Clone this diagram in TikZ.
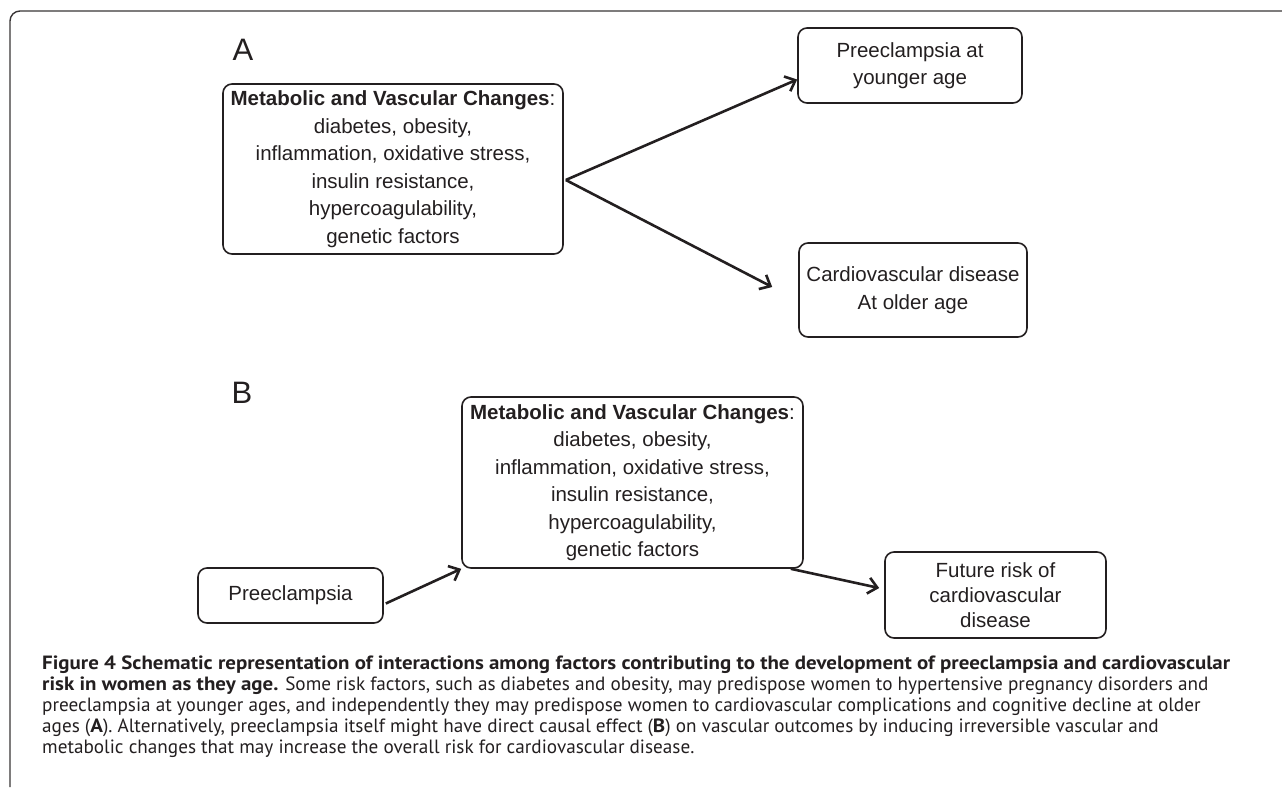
\documentclass[tikz,border=0pt]{standalone}
\usepackage{fontspec}
\setmainfont{Liberation Sans}
\newfontfamily\capfont{PT Sans}[BoldFeatures={FakeStretch=1.09}]
\usetikzlibrary{arrows.meta}

\definecolor{ink}{HTML}{231F20}

\begin{document}
\begin{tikzpicture}[x=1pt, y=-1pt,
  every node/.style={text=ink},
  box/.style={draw=ink, line width=1.6pt, rounded corners=9pt, align=center, inner sep=0pt,
    font=\fontsize{20.5}{27.5}\selectfont},
  arr/.style={draw=ink, line width=2.6pt, -{Straight Barb[length=9pt,width=16pt]}}]
  \useasboundingbox (0,0) rectangle (1282,787);

  % Frame
  \draw[ink!90, line width=1.4pt, rounded corners=10pt] (10,787) -- (10,11) -- (1282,11);

  % Panel A
  \node[font=\fontsize{31}{31}\selectfont] (labA) at (243,50) {A};
  \node[box, minimum width=340pt, minimum height=170pt] (chgA) at (393,169) {\textbf{Metabolic and Vascular Changes}:\\ diabetes, obesity,\\ inflammation, oxidative stress,\\ insulin resistance,\\ hypercoagulability,\\ genetic factors};
  \node[box, minimum width=224pt, minimum height=75pt] (young) at (910,65.5) {Preeclampsia at\\ younger age};
  \node[box, minimum width=228pt, minimum height=94pt] (old) at (913,290) {Cardiovascular disease\\ At older age};

  \coordinate (fork) at ([shift={(2pt,-11pt)}]chgA.east);
  \draw[arr] (fork) -- ([yshift=-14pt]young.west);
  \draw[arr] (fork) -- ([shift={(-26pt,3pt)}]old.west);

  % Panel B
  \node[font=\fontsize{31}{31}\selectfont] (labB) at (242,393) {B};
  \node[box, minimum width=341pt, minimum height=171pt] (chgB) at (632.5,482.5) {\textbf{Metabolic and Vascular Changes}:\\ diabetes, obesity,\\ inflammation, oxidative stress,\\ insulin resistance,\\ hypercoagulability,\\ genetic factors};
  \node[box, minimum width=185pt, minimum height=55pt] (pre) at (290.5,595.5) {Preeclampsia};
  \node[box, minimum width=221pt, minimum height=86pt, font=\fontsize{20.5}{25}\selectfont] (risk) at (995.5,595) {Future risk of\\ cardiovascular\\ disease};

  \draw[arr] ([shift={(2pt,-8pt)}]pre.east) -- (chgB.south west);
  \draw[arr] ([xshift=-13pt]chgB.south east) -- ([shift={(-5pt,7pt)}]risk.west);

  % Caption
  \node[anchor=north west, inner sep=0pt, align=left, font=\capfont\fontsize{19.2}{21}\selectfont] (cap) at (42,656) {\textbf{Figure 4 Schematic representation of interactions among factors contributing to the development of preeclampsia and cardiovascular}\\
  \textbf{risk in women as they age.} Some risk factors, such as diabetes and obesity, may predispose women to hypertensive pregnancy disorders and\\
  preeclampsia at younger ages, and independently they may predispose women to cardiovascular complications and cognitive decline at older\\
  ages (\textbf{A}). Alternatively, preeclampsia itself might have direct causal effect (\textbf{B}) on vascular outcomes by inducing irreversible vascular and\\
  metabolic changes that may increase the overall risk for cardiovascular disease.};
\end{tikzpicture}
\end{document}
